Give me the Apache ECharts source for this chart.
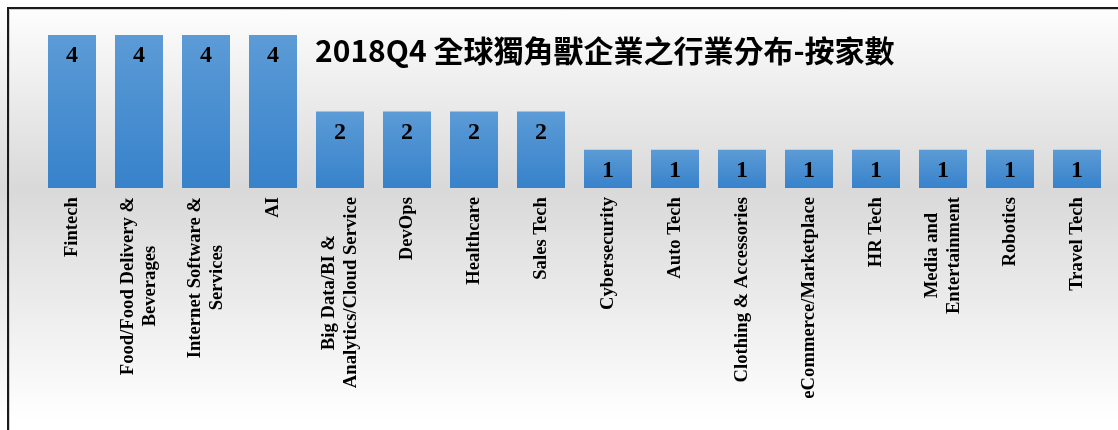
<!DOCTYPE html>
<html>
<head>
<meta charset="utf-8">
<script src="https://cdn.jsdelivr.net/npm/echarts@6/dist/echarts.min.js"></script>
<style>
html,body{margin:0;padding:0;background:#fff;}
#main{width:1118px;height:430px;}
</style>
</head>
<body>
<div id="main"></div>
<script>
var titleText = '2018Q4 全球獨角獸企業之行業分布-按家數';
var categories = [
  'Fintech',
  'Food/Food Delivery &\nBeverages',
  'Internet Software &\nServices',
  'AI',
  'Big Data/BI &\nAnalytics/Cloud Service',
  'DevOps',
  'Healthcare',
  'Sales Tech',
  'Cybersecurity',
  'Auto Tech',
  'Clothing & Accessories',
  'eCommerce/Marketplace',
  'HR Tech',
  'Media and\nEntertainment',
  'Robotics',
  'Travel Tech'
];
var values = [4, 4, 4, 4, 2, 2, 2, 2, 1, 1, 1, 1, 1, 1, 1, 1];

var serif = '"Liberation Serif", "Times New Roman", "DejaVu Serif", serif';
var chart = echarts.init(document.getElementById('main'));
chart.setOption({
  animation: false,
  backgroundColor: {
    type: 'linear', x: 0, y: 0, x2: 0, y2: 1,
    colorStops: [
      {offset: 0, color: '#ffffff'},
      {offset: 0.44, color: '#d9d9d9'},
      {offset: 0.98, color: '#ffffff'},
      {offset: 1, color: '#ffffff'}
    ]
  },
  title: {
    text: titleText,
    left: 310,
    top: 31,
    textStyle: {
      fontFamily: '"Noto Sans CJK TC", "Noto Sans", sans-serif',
      fontSize: 30,
      fontWeight: 'bold',
      color: '#000'
    }
  },
  graphic: [
    {type: 'rect', shape: {x: 8, y: 8, width: 1300, height: 600},
     style: {fill: 'none', stroke: '#1a1a1a', lineWidth: 2}, z: 100},
    {type: 'rect', shape: {x: 9.5, y: 9.5, width: 1300, height: 600},
     style: {fill: 'none', stroke: '#d0d0d0', lineWidth: 1}, z: 100}
  ],
  grid: {left: 38.5, right: 7.5, top: 35, bottom: 242, containLabel: false},
  xAxis: {
    type: 'category',
    data: categories,
    axisLine: {show: false},
    axisTick: {show: false},
    axisLabel: {
      interval: 0,
      rotate: 90,
      margin: 9,
      formatter: function (v) {
        return v.split('\n').map(function (l) { return '{a|' + l + '}'; }).join('\n');
      },
      rich: {
        a: {
          align: 'center',
          fontFamily: serif,
          fontSize: 18.67,
          fontWeight: 'bold',
          color: '#000',
          lineHeight: 21.5
        }
      }
    }
  },
  yAxis: {
    type: 'value',
    min: 0,
    max: 4,
    interval: 1,
    show: false,
    splitLine: {show: false}
  },
  series: [{
    type: 'bar',
    data: values,
    barWidth: 48,
    itemStyle: {
      color: {
        type: 'linear', x: 0, y: 0, x2: 0, y2: 1,
        colorStops: [
          {offset: 0, color: '#5c9bd6'},
          {offset: 1, color: '#3782cb'}
        ]
      }
    },
    label: {
      show: true,
      position: 'insideTop',
      distance: 9,
      fontFamily: serif,
      fontSize: 24,
      fontWeight: 'bold',
      color: '#000'
    }
  }]
});
</script>
</body>
</html>
